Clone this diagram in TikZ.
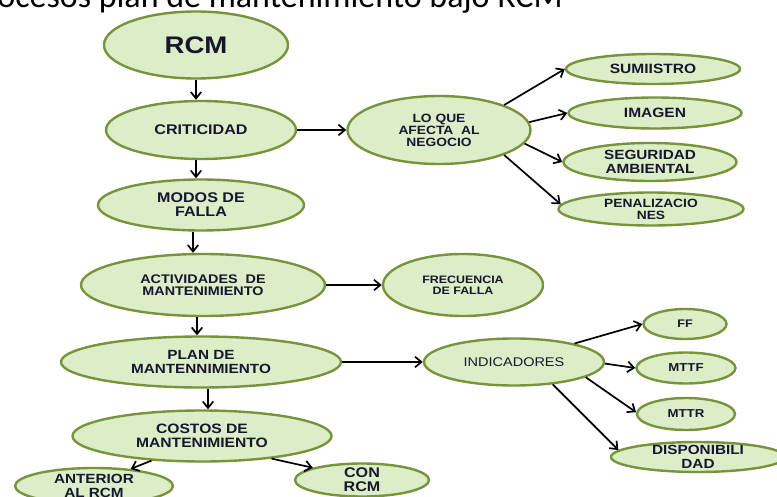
\documentclass[tikz,border=0pt]{standalone}
\usepackage{fontspec}
\setmainfont{Liberation Sans}[FakeStretch=1.15]
\newfontfamily\titlefont{Carlito}
\usetikzlibrary{shapes.geometric,arrows.meta}
\definecolor{ovfill}{HTML}{DCEEC8}
\definecolor{ovline}{HTML}{77933C}
\definecolor{ink}{HTML}{16162E}
\newcommand{\fsz}[1]{\fontsize{#1}{#1}\selectfont\bfseries}
\newcommand{\fsr}[1]{\fontsize{#1}{#1}\selectfont}
\tikzset{
  ov/.style={ellipse, draw=ovline, fill=ovfill, line width=2.4pt, inner sep=0pt},
  txt/.style={text=ink, align=center, inner sep=0pt},
  arr/.style={draw=black, line width=1.7pt, -{Straight Barb[length=6.5pt,width=10.5pt,line width=1.7pt]}},
}
\begin{document}
\begin{tikzpicture}[x=1pt,y=-1pt]
\useasboundingbox (0,0) rectangle (777,497);
\clip (0,0) rectangle (777,497);
% title (cut at the top in the reference)
\node[anchor=base east, inner sep=0pt, font=\titlefont\fontsize{34}{34}\selectfont] (title) at (563,7.5) {ocesos plan de mantenimiento bajo RCM};
% main column
\node[ov, minimum width=184pt, minimum height=67pt, label={[txt,font=\fsz{24}]center:RCM}] (rcm) at (196,45) {};
\node[ov, minimum width=190pt, minimum height=58pt, label={[txt,font=\fsz{14}]center:CRITICIDAD}] (crit) at (201,130) {};
\node[ov, minimum width=206pt, minimum height=51pt, label={[txt,font=\fsz{14}]center:MODOS DE\\FALLA}] (modos) at (201,205) {};
\node[ov, minimum width=244pt, minimum height=62pt, label={[txt,font=\fsz{12.5}]center:ACTIVIDADES\ \ DE\\MANTENIMIENTO}] (act) at (203,285) {};
\node[ov, minimum width=280pt, minimum height=51pt, label={[txt,font=\fsz{13.3}]center:PLAN DE\\MANTENNIMIENTO}] (plan) at (201,362) {};
\node[ov, minimum width=259pt, minimum height=51pt, label={[txt,font=\fsz{13.6}]center:COSTOS DE\\MANTENIMIENTO}] (costos) at (202,436) {};
\node[ov, minimum width=158pt, minimum height=36pt, label={[txt,font=\fsz{13.3}]center:ANTERIOR\\AL RCM}] (ant) at (94,486) {};
\node[ov, minimum width=134pt, minimum height=33pt, label={[txt,font=\fsz{14}]center:CON\\RCM}] (con) at (362,480) {};
% business branch
\node[ov, minimum width=183pt, minimum height=68pt, label={[txt,font=\fsz{12}]center:LO QUE\\AFECTA\ \ AL\\NEGOCIO}] (lo) at (439,130) {};
\node[ov, minimum width=174pt, minimum height=30pt, label={[txt,font=\fsz{13.5}]center:SUMIISTRO}] (sum) at (653,69) {};
\node[ov, minimum width=173pt, minimum height=31pt, label={[txt,font=\fsz{13.5}]center:IMAGEN}] (img) at (655,113) {};
\node[ov, minimum width=173pt, minimum height=38pt, label={[txt,font=\fsz{13.3}]center:SEGURIDAD\\AMBIENTAL}] (seg) at (650,162) {};
\node[ov, minimum width=185pt, minimum height=33pt, label={[txt,font=\fsz{12}]center:PENALIZACIO\\NES}] (pen) at (651,209) {};
% frequency
\node[ov, minimum width=160pt, minimum height=62pt, label={[txt,font=\fsz{10.8}]center:FRECUENCIA\\DE FALLA}] (freq) at (463,285) {};
% indicators
\node[ov, minimum width=180pt, minimum height=47pt, label={[txt,font=\fsr{12.6}]center:INDICADORES}] (ind) at (514,362) {};
\node[ov, minimum width=83pt, minimum height=30pt, label={[txt,font=\fsz{11}]center:FF}] (ff) at (685,324) {};
\node[ov, minimum width=99pt, minimum height=31pt, label={[txt,font=\fsz{11.5}]center:MTTF}] (mttf) at (686,368) {};
\node[ov, minimum width=98pt, minimum height=32pt, label={[txt,font=\fsz{11.5}]center:MTTR}] (mttr) at (686,414) {};
\node[ov, minimum width=174pt, minimum height=30pt, label={[txt,font=\fsz{13.3}]center:DISPONIBILI\\DAD}] (disp) at (698,457) {};
% connectors
\draw[arr] (rcm.south) -- (rcm.south |- crit.north);
\draw[arr] ([xshift=-5pt]crit.south) -- ([xshift=-5pt]crit.south |- modos.north);
\draw[arr] ([xshift=-8pt]modos.south) -- ([xshift=-8pt]modos.south |- act.north);
\draw[arr] ([xshift=-6pt]act.south) -- ([xshift=-6pt]act.south |- plan.north);
\draw[arr] ([xshift=7pt]plan.south) -- ([xshift=7pt]plan.south |- costos.north);
\draw[arr] (costos.206) -- (ant.25);
\draw[arr] (costos.-18) -- (con.166);
\draw[arr] (crit.east) -- (lo.west);
\draw[arr] (lo.21) -- (sum.west);
\draw[arr] (lo.5) -- (img.west);
\draw[arr] (lo.-9) -- (seg.west);
\draw[arr] (lo.-21) -- (pen.177);
\draw[arr] (act.east) -- (freq.west);
\draw[arr] (plan.east) -- (ind.west);
\draw[arr] (ind.17) -- (ff.west);
\draw[arr] (ind.-1) -- (mttf.west);
\draw[arr] (ind.-12) -- (mttr.178);
\draw[arr] (ind.-30) -- (disp.175);
\end{tikzpicture}
\end{document}
